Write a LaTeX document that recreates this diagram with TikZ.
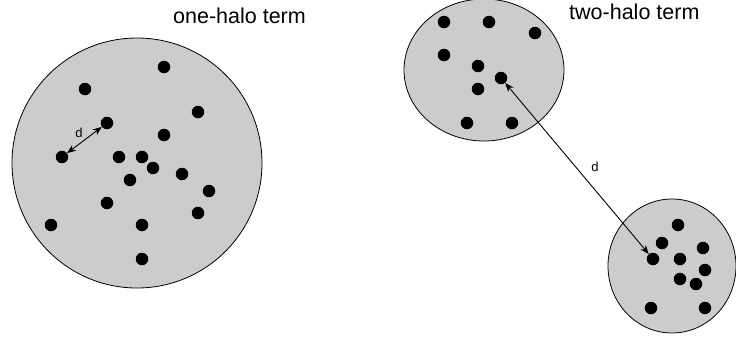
\documentclass[tikz,border=0pt]{standalone}
\usepackage{fontspec}
\setmainfont{Liberation Sans}
\usetikzlibrary{arrows.meta,shapes.geometric}
\begin{document}
\begin{tikzpicture}[x=1pt,y=-1pt,
  halo/.style={ellipse,draw=black,line width=0.8pt,fill={rgb,255:red,204;green,204;blue,204},inner sep=0pt},
  dot/.style={circle,fill=black,inner sep=0pt,minimum size=12.5pt},
  sep/.style={line width=0.9pt,{Stealth[length=9pt,width=7pt]}-{Stealth[length=9pt,width=7pt]}},
  title/.style={font=\fontsize{21.5}{24}\selectfont,inner sep=0pt},
  dlab/.style={font=\fontsize{13}{15}\selectfont,inner sep=0pt}]
\useasboundingbox (0,0) rectangle (736,341);
% halos
\node[halo,minimum width=250pt,minimum height=250pt] (h1) at (137,163) {};
\node[halo,minimum width=160pt,minimum height=142pt] (h2) at (484,70) {};
\node[halo,minimum width=128pt,minimum height=134pt] (h3) at (672,266) {};
% titles
\node[title,anchor=base west] (t1) at (173,23) {one-halo term};
\node[title,anchor=base west] (t2) at (569,19.5) {two-halo term};
% one-halo dots
\node[dot] (a1) at (164,67) {};
\node[dot] (a2) at (85,89) {};
\node[dot] (a3) at (198,112) {};
\node[dot] (a4) at (107,123) {};
\node[dot] (a5) at (164,135) {};
\node[dot] (a6) at (62,157) {};
\node[dot] (a7) at (119,157) {};
\node[dot] (a8) at (142,157) {};
\node[dot] (a9) at (153,168) {};
\node[dot] (a10) at (130,180) {};
\node[dot] (a11) at (182,174) {};
\node[dot] (a12) at (209,191) {};
\node[dot] (a13) at (107,203) {};
\node[dot] (a14) at (198,213) {};
\node[dot] (a15) at (51,225) {};
\node[dot] (a16) at (142,225) {};
\node[dot] (a17) at (142,259) {};
% two-halo upper dots
\node[dot] (b1) at (444,22) {};
\node[dot] (b2) at (489,22) {};
\node[dot] (b3) at (535,33) {};
\node[dot] (b4) at (444,55) {};
\node[dot] (b5) at (478,66) {};
\node[dot] (b6) at (501,78) {};
\node[dot] (b7) at (478,89) {};
\node[dot] (b8) at (467,123) {};
\node[dot] (b9) at (512,123) {};
% two-halo lower dots
\node[dot] (c1) at (678,225) {};
\node[dot] (c2) at (662,243) {};
\node[dot] (c3) at (703,248) {};
\node[dot] (c4) at (653,259) {};
\node[dot] (c5) at (680,259) {};
\node[dot] (c6) at (705,270) {};
\node[dot] (c7) at (680,279) {};
\node[dot] (c8) at (696,284) {};
\node[dot] (c9) at (651,308) {};
\node[dot] (c10) at (705,308) {};
% separations
\draw[sep] (a6) -- (a4);
\node[dlab] (d1) at (79,133) {d};
\draw[sep] (b6) -- (c4);
\node[dlab] (d2) at (595,167) {d};
\end{tikzpicture}
\end{document}
